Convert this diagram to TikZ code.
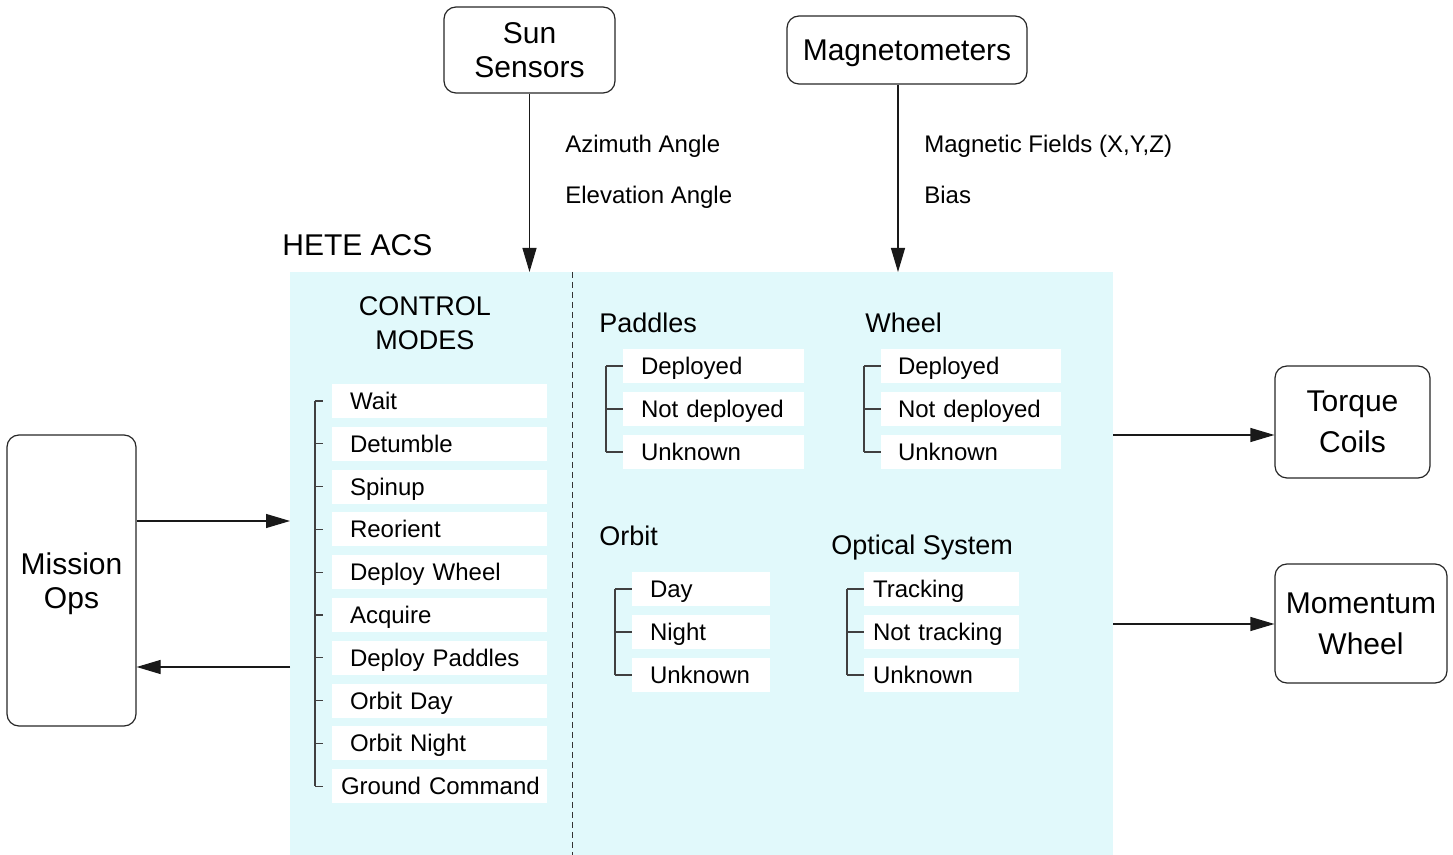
\documentclass[tikz,border=0pt]{standalone}
\usepackage{fontspec}
\setmainfont{Liberation Sans}
\usetikzlibrary{arrows.meta}
\definecolor{acsbg}{RGB}{225,249,251}
\newcommand\fbig{\fontsize{15}{17}\selectfont}
\newcommand\fbigwide{\fontsize{15}{20.5}\selectfont}
\newcommand\fmid{\fontsize{13.5}{17}\selectfont}
\newcommand\fsmall{\fontsize{12}{14}\selectfont}
\begin{document}
\begin{tikzpicture}[x=0.5pt,y=-0.5pt,
  box/.style={draw=black!85, line width=0.6pt, rounded corners=6pt, align=center, inner sep=0pt, text depth=0pt},
  arr/.style={-{Triangle[length=12pt,width=7pt]}, line width=0.6pt, draw=black!90},
  lbl/.style={anchor=base west, inner sep=0pt, font=\fsmall},
  head/.style={anchor=base west, inner sep=0pt, font=\fmid},
  item/.style 2 args={fill=white, anchor=west, outer sep=0pt, inner ysep=0pt, minimum height=17pt, text height=8.6pt, text depth=0pt, align=left, font=\fsmall, text width=#1, inner xsep=#2},
  tree/.style={line width=0.6pt, draw=black!75},
  divider/.style={dash pattern=on 3pt off 2pt, line width=0.5pt, draw=black!80}
]
\useasboundingbox (0,0) rectangle (1453,855);

% ACS region
\node[fill=acsbg, minimum width=411.5pt, minimum height=291.5pt, inner sep=0pt, outer sep=0pt] (acs) at (701.5,563.5) {};
\coordinate (dashx) at (572,0);
\draw[divider] (acs.north -| dashx) -- (acs.south -| dashx);

% external boxes
\node[box, font=\fbig, minimum width=85.5pt, minimum height=43pt] (sun) at (529.5,50) {Sun\\Sensors};
\node[box, font=\fbig, minimum width=120pt, minimum height=34pt] (mag) at (907,50) {Magnetometers};
\node[box, font=\fbig, minimum width=64.5pt, minimum height=145.5pt] (mission) at (71.5,580.5) {Mission\\Ops};
\node[box, font=\fbigwide, minimum width=77.5pt, minimum height=56pt] (torque) at (1352.5,422) {Torque\\Coils};
\node[box, font=\fbigwide, minimum width=86pt, minimum height=59.5pt] (momentum) at (1361,623.5) {Momentum\\Wheel};

% connectors
\draw[arr] (sun.south) -- (sun.south |- acs.north);
\coordinate (magx) at (898,0);
\draw[arr] (mag.south -| magx) -- (acs.north -| magx);
\coordinate (yin) at (0,521);
\coordinate (yout) at (0,667);
\draw[arr] (mission.east |- yin) -- (acs.west |- yin);
\draw[arr] (acs.west |- yout) -- (mission.east |- yout);
\coordinate (ytq) at (0,435);
\draw[arr] (acs.east |- ytq) -- (torque.west |- ytq);
\coordinate (ymw) at (0,624);
\draw[arr] (acs.east |- ymw) -- (momentum.west |- ymw);

% labels
\node[lbl] (az) at (565,153) {Azimuth Angle};
\node[lbl] (el) at (565,204) {Elevation Angle};
\node[lbl] (mf) at (924,153) {Magnetic Fields (X,Y,Z)};
\node[lbl] (bias) at (924,204) {Bias};
\node[anchor=base west, inner sep=0pt, font=\fbig] (hete) at (282,256) {HETE ACS};

% control modes
\node[font=\fmid, align=center, inner sep=0pt, text depth=0pt] (cm) at (425,323.5) {CONTROL\\MODES};
\foreach \t [count=\i] in {Wait,Detumble,Spinup,Reorient,Deploy Wheel,Acquire,Deploy Paddles,Orbit Day,Orbit Night}
  \node[item={89.5pt}{9pt}] (m\i) at (332,{401+42.8*(\i-1)}) {\t};
\node[item={98.5pt}{4.5pt}] (m10) at (332,786.2) {\mbox{Ground Command}};
\draw[tree] ([xshift=-8.5pt]m1.west) -- ([xshift=-8.5pt]m10.west);
\foreach \i in {1,...,10}
  \draw[tree] ([xshift=-8.5pt]m\i.west) -- ([xshift=-4.5pt]m\i.west);

% state groups
\node[head] (hp) at (599,333) {Paddles};
\node[head] (hw) at (865,333) {Wheel};
\node[head] (ho) at (599,546) {Orbit};
\node[head] (hs) at (831,555) {Optical System};
\foreach \t [count=\i] in {Deployed,Not deployed,Unknown}
  \node[item={72.5pt}{9pt}] (p\i) at (623,{366+43*(\i-1)}) {\t};
\foreach \t [count=\i] in {Deployed,Not deployed,Unknown}
  \node[item={73pt}{8.5pt}] (w\i) at (881,{366+43*(\i-1)}) {\t};
\foreach \t [count=\i] in {Day,Night,Unknown}
  \node[item={51pt}{9pt}] (o\i) at (632,{589+43*(\i-1)}) {\t};
\foreach \t [count=\i] in {Tracking,Not tracking,Unknown}
  \node[item={68.5pt}{4.5pt}] (s\i) at (864,{589+43*(\i-1)}) {\t};
\foreach \g in {p,w,o,s} {
  \draw[tree] ([xshift=-8.5pt]\g1.west) -- ([xshift=-8.5pt]\g3.west);
  \foreach \i in {1,2,3}
    \draw[tree] ([xshift=-8.5pt]\g\i.west) -- (\g\i.west);
}
\end{tikzpicture}
\end{document}
